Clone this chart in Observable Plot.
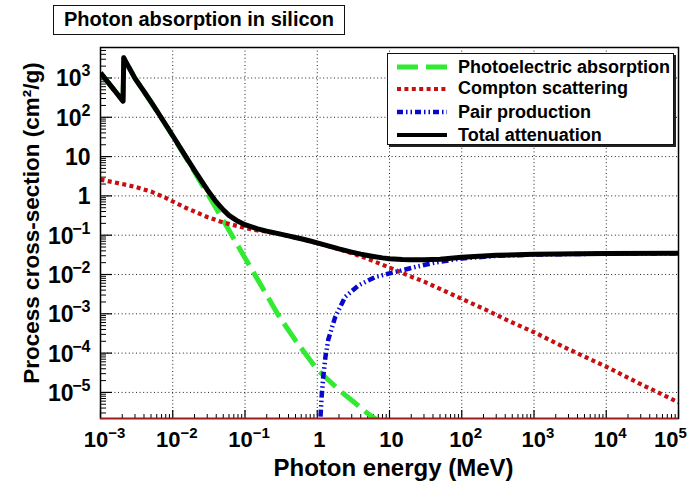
<!DOCTYPE html>
<html><head><meta charset="utf-8">
<script src="https://cdn.jsdelivr.net/npm/d3@7"></script>
<script src="https://cdn.jsdelivr.net/npm/@observablehq/plot@0.6"></script>
<style>
body{margin:0;background:#fff;}
#wrap{position:relative;width:694px;height:486px;font-family:"Liberation Sans",Arial,Helvetica,sans-serif;font-weight:bold;color:#000;}
#wrap svg.plot{position:absolute;left:0;top:0;}
#title{position:absolute;left:53px;top:5px;width:292px;height:30px;box-sizing:border-box;border:1.5px solid #111;background:#fff;font-size:20px;line-height:27px;text-align:center;z-index:2;}
#legend{position:absolute;left:387px;top:53px;width:287px;height:92px;box-sizing:border-box;border:1.5px solid #111;background:#fff;box-shadow:2px 2px 0 #222;z-index:2;}
.row{position:absolute;left:9px;height:22px;display:flex;align-items:center;font-size:18px;white-space:nowrap;}
.row svg{margin-right:11px;}
</style></head>
<body><div id="wrap"></div>
<script>
// ---- data ----
const totalE = [0.001, 0.00205, 0.0021, 0.003, 0.004, 0.005, 0.006, 0.008, 0.01, 0.015, 0.02, 0.03, 0.04, 0.05, 0.06, 0.08, 0.1, 0.15, 0.2, 0.3, 0.4, 0.5, 0.6, 0.8, 1, 1.5, 2, 3, 4, 5, 6, 8, 10, 15, 20, 30, 50, 100, 300, 1000, 1e4, 1e5];
const totalV = [1350, 257, 3250, 978, 453, 245, 147, 64.6, 33.9, 10.3, 4.46, 1.44, 0.70, 0.44, 0.32, 0.225, 0.185, 0.145, 0.127, 0.108, 0.096, 0.0875, 0.081, 0.071, 0.0636, 0.0518, 0.0448, 0.0372, 0.0330, 0.0305, 0.0288, 0.0265, 0.0253, 0.0240, 0.0236, 0.0238, 0.0246, 0.0275, 0.0308, 0.0329, 0.0343, 0.0346];

const photoE = [0.001, 0.00205, 0.0021, 0.003, 0.004, 0.005, 0.006, 0.008, 0.01, 0.015, 0.02, 0.03, 0.04, 0.05, 0.06, 0.08, 0.1, 0.15, 0.2, 0.3, 0.5, 0.8, 1, 1.5, 2, 3, 5, 8, 10];
const photoV = [1345, 255, 3248, 976, 451, 243, 145, 63.6, 33.1, 9.8, 4.05, 1.16, 0.475, 0.236, 0.134, 0.0534, 0.0263, 0.0074, 0.0030, 8.3e-4, 2.1e-4, 6.6e-5, 3.8e-5, 1.9e-5, 1.15e-5, 6.3e-6, 2.9e-6, 1.6e-6, 1.25e-6];

const comptonE = [0.001, 0.002, 0.003, 0.005, 0.008, 0.01, 0.015, 0.02, 0.03, 0.05, 0.08, 0.1, 0.15, 0.2, 0.3, 0.5, 0.8, 1, 2, 3, 5, 10, 20, 30, 50, 100, 200, 500, 1000, 3000, 1e4, 3e4, 1e5];
const comptonV = [2.6, 2.0, 1.7, 1.29, 0.89, 0.72, 0.50, 0.40, 0.29, 0.21, 0.17, 0.152, 0.132, 0.123, 0.107, 0.0867, 0.070, 0.0632, 0.0443, 0.0348, 0.0251, 0.0150, 0.0088, 0.0066, 0.0043, 0.0024, 1.35e-3, 6.0e-4, 3.4e-4, 1.26e-4, 4.5e-5, 1.62e-5, 5.6e-6];

const pairE = [1.022, 1.1, 1.15, 1.21, 1.3, 1.42, 1.77, 2.43, 3.73, 6.4, 13.5, 23, 42, 100, 300, 1000, 1e4, 1e5];
const pairV = [1e-9, 1.8e-6, 7.9e-6, 2.5e-5, 8.1e-5, 2.2e-4, 8.2e-4, 2.7e-3, 5.3e-3, 8.7e-3, 0.0122, 0.0156, 0.020, 0.0256, 0.0298, 0.0322, 0.0340, 0.0345];

const seriesNames = ["Photoelectric absorption", "Compton scattering", "Pair production", "Total attenuation"];
const seriesColors = ["#33ea33", "#c80f0f", "#0808cc", "#000000"];

const xTickValues = [1e-3, 1e-2, 1e-1, 1, 10, 1e2, 1e3, 1e4, 1e5];
const xTickBase = ["10", "10", "10", "1", "10", "10", "10", "10", "10"];
const xTickExp = ["\u22123", "\u22122", "\u22121", "", "", "2", "3", "4", "5"];
const yTickValues = [1e-5, 1e-4, 1e-3, 1e-2, 1e-1, 1, 10, 1e2, 1e3];
const yTickBase = ["10", "10", "10", "10", "10", "1", "10", "10", "10"];
const yTickExp = ["\u22125", "\u22124", "\u22123", "\u22122", "\u22121", "", "", "2", "3"];

const titleText = "Photon absorption in silicon";
const xTitle = "Photon energy (MeV)";
const yTitle = "Process cross-section (cm\u00B2/g)";

// ---- build tables ----
const tbl = (E, V) => E.map((e, i) => ({e, v: V[i]}));
const photo = tbl(photoE, photoV), compton = tbl(comptonE, comptonV), pair = tbl(pairE, pairV), total = tbl(totalE, totalV);
const xMinor = d3.range(-3, 5).flatMap(k => d3.range(2, 10).map(m => m * Math.pow(10, k)));
const yDomain = [2.17e-6, 5960];
const yMinor = d3.range(-6, 4).flatMap(k => d3.range(2, 10).map(m => m * Math.pow(10, k))).filter(v => v >= yDomain[0] && v <= yDomain[1]);
const xt = xTickValues.map((v, i) => ({v, base: xTickBase[i], exp: xTickExp[i]}));
const yt = yTickValues.map((v, i) => ({v, base: yTickBase[i], exp: yTickExp[i]}));

const W = 694, H = 486, ML = 100, MR = 16, MT = 47, MB = 68;
const FW = W - ML - MR, FH = H - MT - MB;
const bold = {fontWeight: "bold", fill: "#000"};

function xLab(data, text, dx, dy, size, anchor) {
  return Plot.text(data, {x: "v", text, frameAnchor: "bottom", dx, dy, fontSize: size, textAnchor: anchor, lineAnchor: "bottom", ...bold});
}
function yLab(data, text, dx, dy, size) {
  return Plot.text(data, {y: "v", text, frameAnchor: "left", dx, dy, fontSize: size, textAnchor: "end", lineAnchor: "bottom", ...bold});
}
const xNeg = xt.filter(d => d.exp.startsWith("\u2212"));
const xPos = xt.filter(d => d.exp && !d.exp.startsWith("\u2212") && d.v < 1e5);
const xLast = xt.filter(d => d.v === 1e5);
const xPlain = xt.filter(d => !d.exp);
const yNeg = yt.filter(d => d.exp.startsWith("\u2212"));
const yPos = yt.filter(d => d.exp && !d.exp.startsWith("\u2212"));
const yPlain = yt.filter(d => !d.exp);

const lineOpts = {x: "e", y: "v", clip: true, curve: "linear", strokeLinecap: "butt"};

const chart = Plot.plot({
  width: W, height: H, marginLeft: ML, marginRight: MR, marginTop: MT, marginBottom: MB,
  x: {type: "log", domain: [1e-3, 1e5], axis: null},
  y: {type: "log", domain: yDomain, axis: null},
  style: {background: "#fff", fontFamily: "'Liberation Sans', Arial, Helvetica, sans-serif", overflow: "visible"},
  marks: [
    Plot.ruleX(xTickValues.slice(1, -1), {x: d => d, stroke: "#222", strokeDasharray: "1,2.6", strokeWidth: 1}),
    Plot.ruleY(yTickValues, {y: d => d, stroke: "#222", strokeDasharray: "1,2.6", strokeWidth: 1}),
    Plot.tickX(xTickValues, {x: d => d, insetTop: FH - 8, stroke: "#000", strokeWidth: 1.2}),
    Plot.tickX(xMinor, {x: d => d, insetTop: FH - 4, stroke: "#000", strokeWidth: 1}),
    Plot.tickY(yTickValues, {y: d => d, insetRight: FW - 12, stroke: "#000", strokeWidth: 1.2}),
    Plot.tickY(yMinor, {y: d => d, insetRight: FW - 6, stroke: "#000", strokeWidth: 1}),
    Plot.line(photo, {...lineOpts, stroke: seriesColors[0], strokeWidth: 5, strokeDasharray: "22,8"}),
    Plot.line(compton, {...lineOpts, stroke: seriesColors[1], strokeWidth: 4.2, strokeDasharray: "4,3.4"}),
    Plot.line(pair, {...lineOpts, stroke: seriesColors[2], strokeWidth: 4.5, strokeDasharray: "7,3,1.5,3,1.5,3"}),
    Plot.line(total, {...lineOpts, stroke: seriesColors[3], strokeWidth: 5, strokeLinejoin: "round"}),
    Plot.frame({stroke: "#000", strokeWidth: 1.5}),
    Plot.ruleY([yDomain[0]], {y: d => d, stroke: "#9a1c1c", strokeWidth: 1.5}),
    // x tick labels
    xLab(xNeg, "base", 7.8, 28, 22, "end"), xLab(xNeg, "exp", 7.8, 19, 15, "start"),
    xLab(xPos, "base", 12, 28, 22, "end"), xLab(xPos, "exp", 12, 19, 15, "start"),
    xLab(xLast, "base", 0, 28, 22, "end"), xLab(xLast, "exp", 0, 19, 15, "start"),
    xLab(xPlain, "base", 2, 28, 22, "middle"),
    // y tick labels
    yLab(yNeg, "base", -27, 8.5, 23), yLab(yNeg, "exp", -10, -1.5, 16),
    yLab(yPos, "base", -19, 8.5, 23), yLab(yPos, "exp", -10, -1.5, 16),
    yLab(yPlain, "base", -10, 8.5, 23),
    // axis titles
    Plot.text([xTitle], {text: d => d, frameAnchor: "bottom", dx: 4, dy: 57, fontSize: 24, textAnchor: "middle", lineAnchor: "bottom", ...bold}),
    Plot.text([yTitle], {text: d => d, frameAnchor: "left", dx: -62, dy: -10, rotate: -90, fontSize: 22.5, textAnchor: "middle", lineAnchor: "bottom", ...bold})
  ]
});
chart.classList.add("plot");
const wrap = document.getElementById("wrap");
wrap.appendChild(chart);

// title box
const t = document.createElement("div");
t.id = "title"; t.textContent = titleText; wrap.appendChild(t);

// legend box
const dashes = ["21,8", "4,3.4", "6,3,1.5,3,1.5,3", null];
const widths = [5, 4.2, 4.5, 4];
const centers = [13, 34.5, 58, 81];
const lg = document.createElement("div"); lg.id = "legend";
seriesNames.forEach((name, i) => {
  const r = document.createElement("div"); r.className = "row"; r.style.top = (centers[i] - 11) + "px";
  const s = d3.create("svg").attr("width", 50).attr("height", 12);
  s.append("line").attr("x1", 0).attr("x2", 50).attr("y1", 6).attr("y2", 6)
    .attr("stroke", seriesColors[i]).attr("stroke-width", widths[i])
    .attr("stroke-dasharray", dashes[i]);
  r.appendChild(s.node());
  const sp = document.createElement("span"); sp.textContent = name; r.appendChild(sp);
  lg.appendChild(r);
});
wrap.appendChild(lg);
</script>
</body></html>
